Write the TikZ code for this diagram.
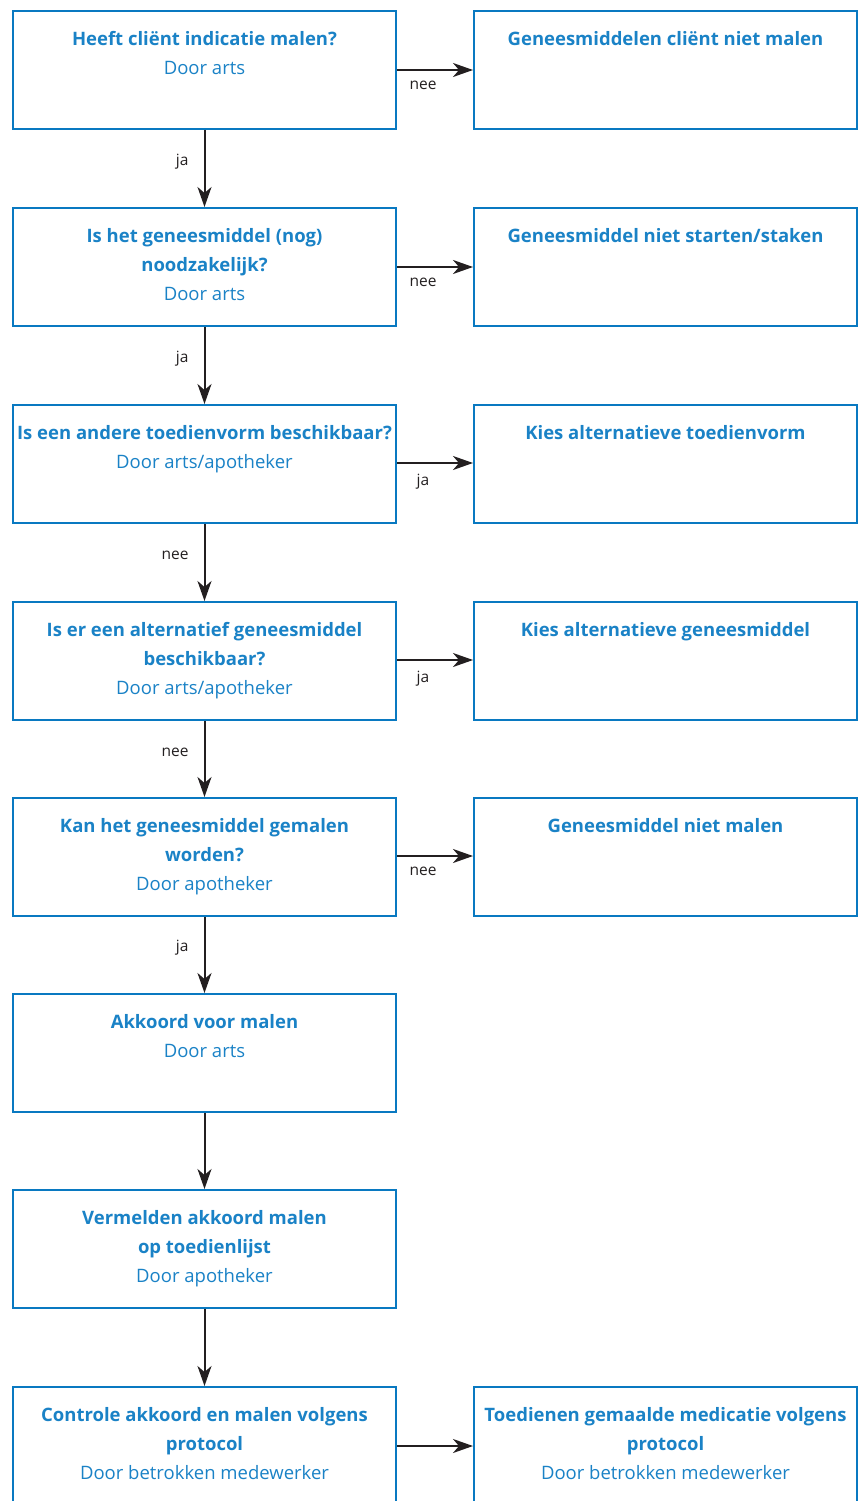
\documentclass[tikz,border=0pt]{standalone}
\usepackage{fontspec}
\setmainfont{Open Sans}
\usetikzlibrary{arrows.meta}
\definecolor{boxblue}{HTML}{0979C1}
\definecolor{txtblue}{HTML}{1A82C6}
\definecolor{arrowgrey}{HTML}{231F20}
\tikzset{
  box/.style={draw=boxblue, line width=2pt, minimum width=383pt, minimum height=118pt, anchor=north west, inner sep=0pt},
  boxtxt/.style={anchor=north, align=center, inner sep=0pt, text=txtblue, font=\fontsize{18.5}{29}\selectfont},
  conn/.style={draw=arrowgrey, line width=2pt, -{Stealth[length=20pt,width=14pt,inset=6pt]}},
  lab/.style={text=arrowgrey, font=\fontsize{15.5}{18}\selectfont, inner sep=0pt},
  vlab/.style={lab, left=15pt, yshift=7pt},
  hlab/.style={lab, below=10pt, xshift=-12pt},
}
\newcommand{\ttl}[1]{\textbf{#1}}
\begin{document}
\begin{tikzpicture}[x=1pt,y=-1pt]
\useasboundingbox (0,0) rectangle (858,1501);
% left column
\node[box] (l1) at (12,10) {};
\node[box] (l2) at (12,207) {};
\node[box] (l3) at (12,404) {};
\node[box] (l4) at (12,601) {};
\node[box] (l5) at (12,797) {};
\node[box] (l6) at (12,993) {};
\node[box] (l7) at (12,1189) {};
\node[box, minimum height=130pt] (l8) at (12,1386) {};
% right column
\node[box] (r1) at (473,10) {};
\node[box] (r2) at (473,207) {};
\node[box] (r3) at (473,404) {};
\node[box] (r4) at (473,601) {};
\node[box] (r5) at (473,797) {};
\node[box, minimum height=130pt] (r8) at (473,1386) {};
% texts
\node[boxtxt] (tl1) at ([yshift=-21pt]l1.north) {\ttl{Heeft cliënt indicatie malen?}\\Door arts};
\node[boxtxt] (tl2) at ([yshift=-21pt]l2.north) {\ttl{Is het geneesmiddel (nog)}\\\ttl{noodzakelijk?}\\Door arts};
\node[boxtxt] (tl3) at ([yshift=-21pt]l3.north) {\ttl{Is een andere toedienvorm beschikbaar?}\\Door arts/apotheker};
\node[boxtxt] (tl4) at ([yshift=-21pt]l4.north) {\ttl{Is er een alternatief geneesmiddel}\\\ttl{beschikbaar?}\\Door arts/apotheker};
\node[boxtxt] (tl5) at ([yshift=-21pt]l5.north) {\ttl{Kan het geneesmiddel gemalen}\\\ttl{worden?}\\Door apotheker};
\node[boxtxt] (tl6) at ([yshift=-21pt]l6.north) {\ttl{Akkoord voor malen}\\Door arts};
\node[boxtxt] (tl7) at ([yshift=-21pt]l7.north) {\ttl{Vermelden akkoord malen}\\\ttl{op toedienlijst}\\Door apotheker};
\node[boxtxt] (tl8) at ([yshift=-21pt]l8.north) {\ttl{Controle akkoord en malen volgens}\\\ttl{protocol}\\Door betrokken medewerker};
\node[boxtxt] (tr1) at ([yshift=-21pt]r1.north) {\ttl{Geneesmiddelen cliënt niet malen}};
\node[boxtxt] (tr2) at ([yshift=-21pt]r2.north) {\ttl{Geneesmiddel niet starten/staken}};
\node[boxtxt] (tr3) at ([yshift=-21pt]r3.north) {\ttl{Kies alternatieve toedienvorm}};
\node[boxtxt] (tr4) at ([yshift=-21pt]r4.north) {\ttl{Kies alternatieve geneesmiddel}};
\node[boxtxt] (tr5) at ([yshift=-21pt]r5.north) {\ttl{Geneesmiddel niet malen}};
\node[boxtxt] (tr8) at ([yshift=-21pt]r8.north) {\ttl{Toedienen gemaalde medicatie volgens}\\\ttl{protocol}\\Door betrokken medewerker};
% vertical connectors
\draw[conn] (l1.south) -- node[vlab] {ja} (l2.north);
\draw[conn] (l2.south) -- node[vlab] {ja} (l3.north);
\draw[conn] (l3.south) -- node[vlab] {nee} (l4.north);
\draw[conn] (l4.south) -- node[vlab] {nee} (l5.north);
\draw[conn] (l5.south) -- node[vlab] {ja} (l6.north);
\draw[conn] (l6.south) -- (l7.north);
\draw[conn] (l7.south) -- (l8.north);
% horizontal connectors
\draw[conn] (l1.east |- 0,70) -- node[hlab] {nee} (r1.west |- 0,70);
\draw[conn] (l2.east |- 0,267) -- node[hlab] {nee} (r2.west |- 0,267);
\draw[conn] (l3.east |- 0,463) -- node[hlab] {ja} (r3.west |- 0,463);
\draw[conn] (l4.east |- 0,660) -- node[hlab] {ja} (r4.west |- 0,660);
\draw[conn] (l5.east |- 0,856) -- node[hlab] {nee} (r5.west |- 0,856);
\draw[conn] (l8.east |- 0,1446) -- (r8.west |- 0,1446);
\end{tikzpicture}
\end{document}
